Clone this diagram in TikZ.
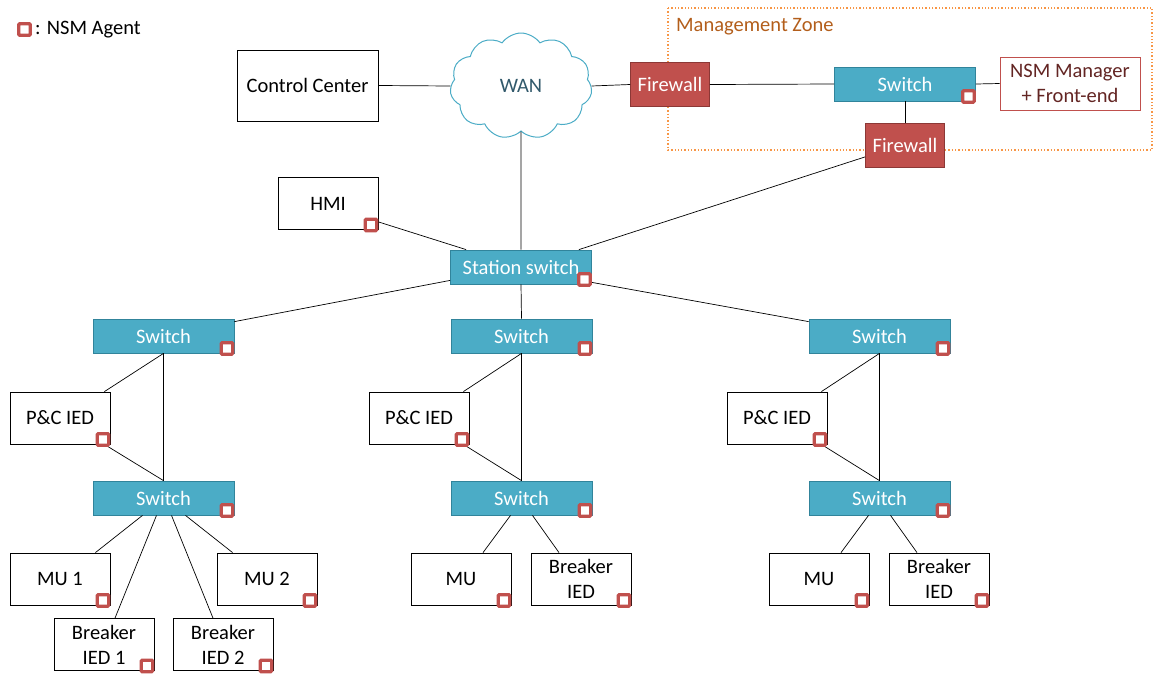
\documentclass[tikz,border=0pt]{standalone}
\usepackage{fontspec}
\setmainfont{Carlito}
\usetikzlibrary{shapes.symbols,calc}
\definecolor{swf}{HTML}{4BACC6}
\definecolor{swb}{HTML}{31849B}
\definecolor{fwf}{HTML}{C0504D}
\definecolor{fwb}{HTML}{8C3836}
\definecolor{agc}{HTML}{C0504D}
\definecolor{zonec}{HTML}{F79646}
\definecolor{zonet}{HTML}{B35E1B}
\definecolor{mgrt}{HTML}{632523}
\definecolor{want}{HTML}{31596B}
\newcommand{\fs}{\fontsize{20.5}{25}\selectfont}
\tikzset{
  x=1pt, y=-1pt,
  every node/.style={font=\fs, inner sep=0pt},
  box/.style={draw=black, fill=white, minimum width=100pt, minimum height=52pt, align=center, line width=0.8pt},
  sw/.style={draw=swb, fill=swf, text=white, minimum width=141pt, minimum height=34pt, line width=0.8pt},
  fw/.style={draw=fwb, fill=fwf, text=white, minimum width=79pt, minimum height=44pt, line width=0.8pt},
  agent/.style={draw=agc, line width=3.2pt, fill=white, minimum size=11.5pt, rounded corners=1pt},
  link/.style={draw=black, line width=0.7pt},
}
\newcommand{\agentat}[1]{\node[agent] at ([xshift=-7.5pt,yshift=5pt]#1.south east) {};}
\begin{document}
\begin{tikzpicture}
\useasboundingbox (0,0) rectangle (1153,675);
% legend
\node[agent] (leg) at (24.5,29.5) {};
\node[anchor=west] (legt) at (35,30) {: NSM Agent};
% management zone
\draw[zonec, dotted, line width=1.3pt] (668,8) rectangle (1152,150);
\node[anchor=west, text=zonet] (zt) at (676,27) {Management Zone};
% top
\node[box, minimum width=141pt, minimum height=71pt] (cc) at (307.5,85.5) {Control Center};
\node[cloud, cloud puffs=11, cloud puff arc=110, aspect=1.3, draw=swf, line width=1pt, fill=white,
      minimum width=142pt, minimum height=106pt, text=want] (wan) at (521,86) {WAN};
\node[fw] (fw1) at (670,84.5) {Firewall};
\node[sw] (msw) at (905,84) {Switch};
\node[box, draw=fwf, text=mgrt, minimum width=140pt, minimum height=53pt] (nsm) at (1070,83.5) {NSM Manager\\+ Front-end};
\node[fw] (fw2) at (905,145.5) {Firewall};
\node[box] (hmi) at (328,203.5) {HMI};
\node[sw] (st) at (521,267) {Station switch};
% level 2 switches
\node[sw] (swL) at (163.5,336) {Switch};
\node[sw] (swM) at (521.5,336) {Switch};
\node[sw] (swR) at (879.5,336) {Switch};
\node[box] (pcL) at (60,418) {P\&C IED};
\node[box] (pcM) at (419,418) {P\&C IED};
\node[box] (pcR) at (777,418) {P\&C IED};
\node[sw] (sw3L) at (163.5,498) {Switch};
\node[sw] (sw3M) at (521.5,498) {Switch};
\node[sw] (sw3R) at (879.5,498) {Switch};
% bottom
\node[box] (mu1) at (60,579) {MU 1};
\node[box] (mu2) at (267,579) {MU 2};
\node[box] (b1) at (104,644.5) {Breaker\\IED 1};
\node[box] (b2) at (223,644.5) {Breaker\\IED 2};
\node[box] (muM) at (461,579) {MU};
\node[box] (bM) at (581,579) {Breaker\\IED};
\node[box] (muR) at (819,579) {MU};
\node[box] (bR) at (939,579) {Breaker\\IED};
% links
\draw[link] (cc.east) -- (wan.west);
\draw[link] (wan.east) -- (fw1.west);
\draw[link] (fw1.east) -- (msw.west);
\draw[link] (msw.east) -- (nsm.west);
\draw[link] (msw.south) -- (fw2.north);
\draw[link] ([yshift=11pt]fw2.south west) -- ([xshift=-13pt]st.north east);
\draw[link] (wan.south) -- (st.north);
\draw[link] ([yshift=8pt]hmi.south east) -- ([xshift=16pt]st.north west);
\draw[link] ([yshift=4pt]st.south west) -- ([yshift=-3pt]swL.north east);
\draw[link] (st.south) -- (swM.north);
\draw[link] ([yshift=2pt]st.south east) -- ([yshift=-3pt]swR.north west);
\foreach \s/\p/\t in {swL/pcL/sw3L, swM/pcM/sw3M, swR/pcR/sw3R}{
  \draw[link] (\s.south) -- ([xshift=-6pt]\p.north east);
  \draw[link] ([xshift=-6pt]\p.south east) -- (\t.north);
  \draw[link] (\s.south) -- (\t.north);
}
\draw[link] ([xshift=-21pt]sw3L.south) -- ([xshift=-15pt]mu1.north east);
\draw[link] ([xshift=-7pt]sw3L.south) -- ([xshift=11pt]b1.north);
\draw[link] ([xshift=8pt]sw3L.south) -- ([xshift=-10pt]b2.north);
\draw[link] ([xshift=22pt]sw3L.south) -- ([xshift=16pt]mu2.north west);
\foreach \s/\m/\b in {sw3M/muM/bM, sw3R/muR/bR}{
  \draw[link] ([xshift=-11pt]\s.south) -- ([xshift=22pt]\m.north);
  \draw[link] ([xshift=11pt]\s.south) -- ([xshift=-22pt]\b.north);
}
% agents
\foreach \n in {hmi, msw, st, swL, swM, swR, pcL, pcM, pcR, sw3L, sw3M, sw3R, mu1, mu2, b1, b2, muM, bM, muR, bR}{
  \agentat{\n}
}
\end{tikzpicture}
\end{document}
